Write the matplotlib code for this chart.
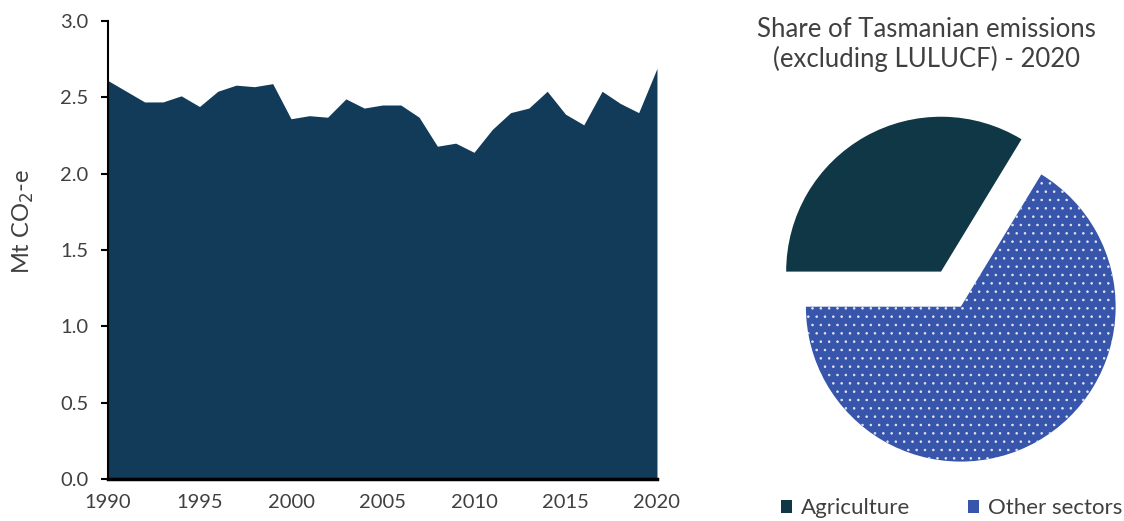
import matplotlib
matplotlib.use("Agg")
import matplotlib.pyplot as plt
from matplotlib.patches import Patch

plt.rcParams["font.family"] = ["Lato", "DejaVu Sans"]
plt.rcParams["hatch.linewidth"] = 0.6

years = list(range(1990, 2021))
emissions = [2.61, 2.54, 2.47, 2.47, 2.51, 2.44, 2.54, 2.58, 2.57, 2.59,
             2.36, 2.38, 2.37, 2.49, 2.43, 2.45, 2.45, 2.37, 2.18, 2.20,
             2.14, 2.29, 2.40, 2.43, 2.54, 2.39, 2.32, 2.54, 2.46, 2.40,
             2.69]

sectors = ["Agriculture", "Other sectors"]
shares = [33.7, 66.3]

area_col = "#123a59"
agri_col = "#0f3746"
other_col = "#3755aa"
txt = "#404040"

fig = plt.figure(figsize=(11.24, 5.21), dpi=100)

# emissions time series
ax = fig.add_axes([0.0961, 0.0806, 0.4884, 0.879])
ax.fill_between(years, emissions, 0, color=area_col, lw=0)
ax.set_xlim(1990, 2020)
ax.set_ylim(0, 3)
ax.set_xticks(range(1990, 2021, 5))
ax.set_yticks([0, 0.5, 1.0, 1.5, 2.0, 2.5, 3.0])
ax.set_yticklabels(["0.0", "0.5", "1.0", "1.5", "2.0", "2.5", "3.0"])
for s in ["top", "right"]:
    ax.spines[s].set_visible(False)
ax.spines["left"].set_linewidth(1.5)
ax.spines["bottom"].set_linewidth(2.5)
ax.tick_params(axis="y", length=5, width=1.5, pad=9, labelsize=14.5, labelcolor=txt)
ax.tick_params(axis="x", length=0, pad=11, labelsize=14.5, labelcolor=txt)
# unit label sits a little above the axis middle
fig.text(0.021, 0.574, "Mt CO$_2$-e", rotation=90, ha="center", va="center",
         fontsize=17, color=txt)

# 2020 share pie
pax = fig.add_axes([0.6903, 0.109, 0.3114, 0.672])
wedges, _ = pax.pie(shares, colors=[agri_col, other_col], startangle=180,
                    counterclock=False, explode=[0.13, 0.13], radius=1,
                    wedgeprops=dict(linewidth=0))
wedges[1].set_hatch("..")
wedges[1].set_edgecolor("#e8e4f0")
wedges[1].set_linewidth(0)
pax.set_xlim(-1.13, 1.13)
pax.set_ylim(-1.13, 1.13)
pax.set_aspect("equal")
pax.axis("off")

fig.text(0.824, 0.968, "Share of Tasmanian emissions\n(excluding LULUCF) - 2020",
         ha="center", va="top", fontsize=18.5, color=txt, linespacing=1.2)

handles = [Patch(facecolor=agri_col), Patch(facecolor=other_col)]
fig.legend(handles, sectors, loc="center", bbox_to_anchor=(0.847, 0.024),
           ncol=2, frameon=False, fontsize=16, handlelength=0.5, handleheight=0.5,
           handletextpad=0.4, columnspacing=2.6, labelcolor=txt)

fig.savefig("out.png", dpi=100)
